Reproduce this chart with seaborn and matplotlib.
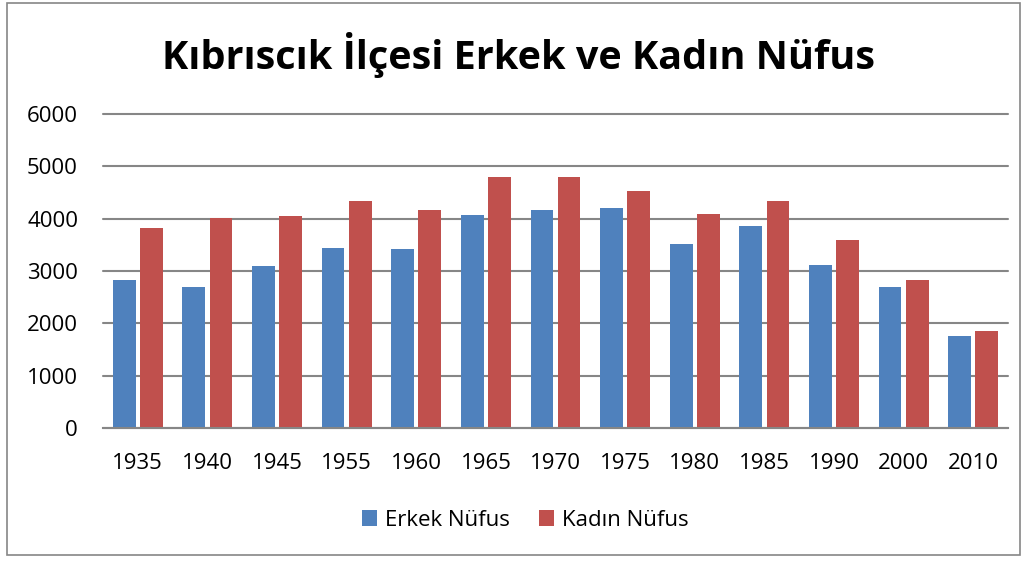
import matplotlib
matplotlib.use('Agg')
import matplotlib.pyplot as plt
from matplotlib.patches import Rectangle
import seaborn as sns
import pandas as pd

# data
years = ['1935', '1940', '1945', '1955', '1960', '1965', '1970',
         '1975', '1980', '1985', '1990', '2000', '2010']
erkek = [2820, 2700, 3095, 3445, 3425, 4075, 4175,
         4195, 3520, 3865, 3110, 2700, 1755]
kadin = [3815, 4010, 4050, 4330, 4175, 4795, 4805,
         4520, 4095, 4330, 3600, 2825, 1845]
series = ['Erkek Nüfus', 'Kadın Nüfus']

df = pd.DataFrame({'year': years * 2,
                   'value': erkek + kadin,
                   'series': [series[0]] * len(years) + [series[1]] * len(years)})

sns.set_theme(style='white')
plt.rcParams['font.family'] = ['Open Sans', 'DejaVu Sans']
plt.rcParams['text.color'] = 'black'

fig = plt.figure(figsize=(10.26, 5.63), dpi=100)
ax = fig.add_axes([103 / 1026, 1 - 428 / 563, 905 / 1026, 314 / 563])

sns.barplot(data=df, x='year', y='value', hue='series', order=years,
            palette=['#4F81BD', '#C0504D'], saturation=1, width=0.78, gap=0.16,
            edgecolor='none', ax=ax)

ax.set_ylim(0, 6000)
ax.set_yticks(range(0, 6001, 1000))
ax.set_xlim(-0.5, len(years) - 0.5)
ax.yaxis.grid(True, color='#868686', linewidth=1.5)
for gl in ax.get_ygridlines():
    gl.set_clip_on(False)
ax.set_axisbelow(True)
for s in ['left', 'right', 'top']:
    ax.spines[s].set_visible(False)
ax.spines['bottom'].set_color('#868686')
ax.spines['bottom'].set_linewidth(1.5)
ax.tick_params(axis='both', length=0, labelsize=16, colors='black')
ax.tick_params(axis='x', pad=18)
ax.tick_params(axis='y', pad=18)
ax.set_xlabel('')
ax.set_ylabel('')

fig.text(0.505, 1 - 55 / 563, 'Kıbrıscık İlçesi Erkek ve Kadın Nüfus',
         ha='center', va='center', fontsize=28.5, fontweight='bold', color='black')

handles, labels = ax.get_legend_handles_labels()
ax.legend(handles, labels, loc='center', bbox_to_anchor=(0.512, 1 - 520 / 563),
          bbox_transform=fig.transFigure, ncol=2, frameon=False,
          fontsize=16, handlelength=0.7, handleheight=0.7,
          handletextpad=0.35, columnspacing=1.3)

fig.patches.append(Rectangle((7 / 1026, 1 - 555 / 563), 1013 / 1026, 552 / 563,
                             transform=fig.transFigure, fill=False,
                             edgecolor='#868686', linewidth=1.2))

fig.savefig('out.png', dpi=100)
